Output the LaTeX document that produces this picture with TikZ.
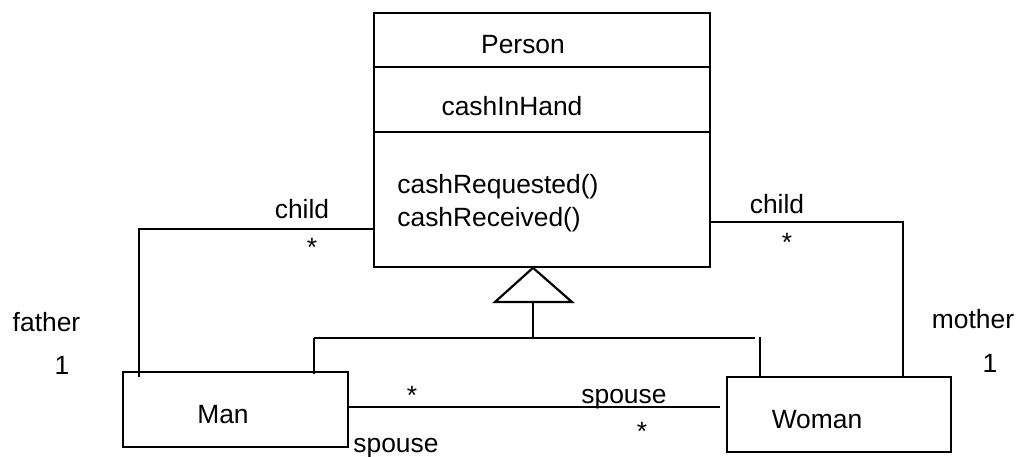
\documentclass[tikz,border=0pt]{standalone}
\usepackage{fontspec}
\setmainfont{Liberation Sans}
\usetikzlibrary{calc}
\begin{document}
\begin{tikzpicture}[x=0.5pt,y=-0.5pt,
  line/.style={line width=1.1pt},
  classbox/.style={draw, line width=1.1pt, inner sep=0pt},
  lbl/.style={inner sep=0pt, anchor=base, font=\fontsize{13.2pt}{15pt}\selectfont},
  mult/.style={inner sep=0pt, font=\fontsize{13.2pt}{15pt}\selectfont}]
\useasboundingbox (0,0) rectangle (1018,456);

% class boxes
\node[classbox, minimum width=168pt, minimum height=127pt] (person) at (542,139.7) {};
\node[classbox, minimum width=112.5pt, minimum height=37.5pt] (man) at (235.5,409.5) {};
\node[classbox, minimum width=112pt, minimum height=37.5pt] (woman) at (839,414.5) {};

% compartments of Person
\coordinate (d1) at (0,67);
\coordinate (d2) at (0,132);
\draw[line] (person.west |- d1) -- (person.east |- d1);
\draw[line] (person.west |- d2) -- (person.east |- d2);

% texts inside the boxes
\node[lbl] (pname) at (523,53) {Person};
\node[lbl] (pattr) at (512,115) {cashInHand};
\node[lbl, anchor=base west] (op1) at (397,193) {cashRequested()};
\node[lbl, anchor=base west] (op2) at (397,226.7) {cashReceived()};
\node[lbl] (mname) at (223,423) {Man};
\node[lbl] (wname) at (817,428) {Woman};

% generalization
\coordinate (gx) at (533,0);
\coordinate (tri) at (533,302);
\coordinate (jm) at (314,338);
\coordinate (jr) at (755,338);
\coordinate (jw) at (760,337);
\draw[line] (gx |- person.south) -- (495,302) -- (572,302) -- cycle;
\draw[line] (tri) -- (tri |- jm);
\draw[line] (jm) -- (jr);
\draw[line] (jm) -- ($(jm |- man.north)+(0,3)$);
\draw[line] (jw) -- (jw |- woman.north);

% father / child association
\coordinate (cl) at (139,229);
\draw[line] ($(cl |- man.north)+(0,6)$) -- (cl) -- (cl -| person.west);
% mother / child association
\coordinate (cr) at (903,222);
\draw[line] (cr -| person.east) -- (cr) -- ($(cr |- woman.north)+(0,1.5)$);
% spouse association
\coordinate (sp) at (0,407);
\draw[line] (man.east |- sp) -- ($(woman.west |- sp)+(-6,0)$);

% role names and multiplicities
\node[lbl] (lchild) at (302,218) {child};
\node[mult] (lstar) at (312,247) {*};
\node[lbl] (rchild) at (777,213) {child};
\node[mult] (rstar) at (787,242) {*};
\node[lbl] (father) at (46.5,331) {father};
\node[lbl] (fone) at (62,374) {1};
\node[lbl] (mother) at (973,328) {mother};
\node[lbl] (mone) at (990,372) {1};
\node[mult] (sstar1) at (412,395) {*};
\node[lbl, anchor=base west] (spouse1) at (353,452) {spouse};
\node[lbl] (spouse2) at (624,403) {spouse};
\node[mult] (sstar2) at (642,431) {*};
\end{tikzpicture}
\end{document}
